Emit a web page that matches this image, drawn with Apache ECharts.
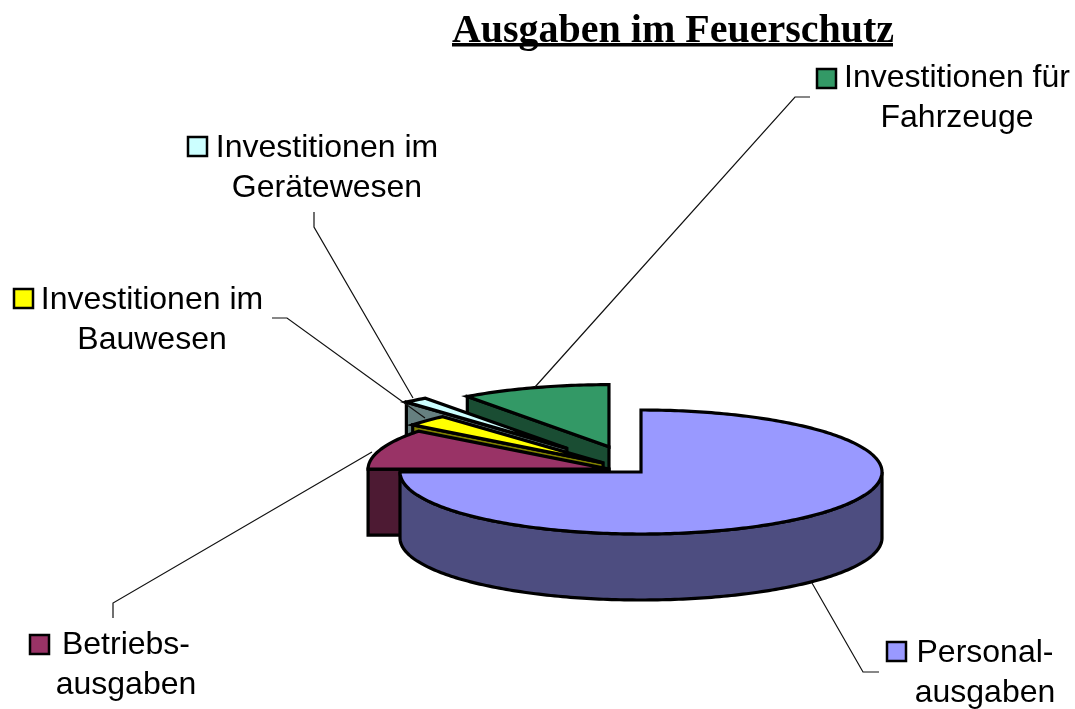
<!DOCTYPE html>
<html><head><meta charset="utf-8">
<style>html,body{margin:0;padding:0;background:#fff}#c{width:1075px;height:709px}</style>
<script src="https://cdn.jsdelivr.net/npm/echarts@6/dist/echarts.min.js"></script>
</head><body><div id="c"></div>
<script>
// Data (share of spending)
const categories = ['Personal-\nausgaben','Betriebs-\nausgaben','Investitionen im\nBauwesen','Investitionen im\nGerätewesen','Investitionen für\nFahrzeuge'];
const values = [75, 10.5, 2.9, 1.6, 10];
// Styles and layout
const topColors = ['#9999ff','#993366','#ffff00','#ccffff','#339966'];
const sideColors = ['#4d4d80','#4d1a33','#808000','#668080','#1a4d33'];
const explode = [0, 0.14, 0.215, 0.49, 0.43];
const PIE = {cx:641, cy:472, rx:241, ry:62, depth:66};
const keyBoxes = [[887,642],[30,635],[14,289],[188,137],[817,69]];
const labelPos = [[985,673],[126,665],[152,320],[327,168],[957,98]];
const leaders = [
  [[812,583],[863,672],[879,672]],
  [[113,618],[113,603],[372,452]],
  [[272,318],[287,318],[425,418]],
  [[314,212],[314,227],[413,398]],
  [[810,97],[795,97],[535,387]]
];
const total = values.reduce((a,b)=>a+b,0);
const starts = []; values.reduce((acc,v,i)=>{starts[i]=acc;return acc+v/total*360;},0);
const rad = d=>d*Math.PI/180;
function pt(c,deg,r=1){return [c[0]+PIE.rx*r*Math.sin(rad(deg)), c[1]-PIE.ry*r*Math.cos(rad(deg))];}
function arc(c,a,b){const n=Math.max(2,Math.ceil(Math.abs(b-a)));const out=[];for(let i=0;i<=n;i++)out.push(pt(c,a+(b-a)*i/n));return out;}
const edge = {stroke:'#000',lineWidth:3.2,lineJoin:'miter'};
function sliceItem(params){
  const i = values.length-1-params.dataIndex; // far slices are painted first
  const a = starts[i], b = a+values[i]/total*360, mid=(a+b)/2;
  const off = pt([0,0],mid,explode[i]);
  const c = [PIE.cx+off[0], PIE.cy+off[1]];
  const down = p=>[p[0],p[1]+PIE.depth];
  const kids = [];
  // cut wall that faces the viewer
  if(a>180&&a<360){
    const r=pt(c,a);
    kids.push({type:'polygon',shape:{points:[c,r,down(r),down(c)]},style:{fill:sideColors[i],...edge}});
  }
  // outer rim (front half only)
  const fa=Math.max(a,90), fb=Math.min(b,270);
  if(fb>fa){
    const t=arc(c,fa,fb);
    kids.push({type:'polygon',shape:{points:t.concat(t.map(down).reverse())},style:{fill:sideColors[i],...edge}});
  }
  kids.push({type:'polygon',shape:{points:[c].concat(arc(c,a,b))},style:{fill:topColors[i],...edge}});
  return {type:'group',children:kids};
}
function labelItem(params){
  const i=params.dataIndex;
  return {type:'group',children:[
    {type:'polyline',shape:{points:leaders[i]},style:{fill:null,stroke:'#111',lineWidth:1.2}},
    {type:'rect',shape:{x:keyBoxes[i][0],y:keyBoxes[i][1],width:19,height:19},style:{fill:topColors[i],stroke:'#000',lineWidth:2.5}},
    {type:'text',style:{x:labelPos[i][0],y:labelPos[i][1],text:categories[i],align:'center',verticalAlign:'middle',
      font:'32px "Liberation Sans"',lineHeight:39.5,fill:'#000'}}
  ]};
}
const chart = echarts.init(document.getElementById('c'),null,{renderer:'canvas'});
chart.setOption({
  animation:false,
  backgroundColor:'#fff',
  title:{text:'Ausgaben im Feuerschutz',left:668,top:7,textAlign:'center',
    textStyle:{fontFamily:'"Liberation Serif"',fontWeight:'bold',fontSize:40,color:'#000'}},
  graphic:[{type:'rect',shape:{x:452,y:43,width:441,height:3.5},style:{fill:'#000'}}],
  series:[
    {type:'custom',name:'Ausgaben',coordinateSystem:'none',renderItem:sliceItem,z:2,silent:true,
     data:values.map((v,i)=>({name:categories[values.length-1-i],value:values[values.length-1-i]}))},
    {type:'custom',name:'Beschriftung',coordinateSystem:'none',renderItem:labelItem,z:3,silent:true,
     data:values.map((v,i)=>({name:categories[i],value:v}))}
  ]
});
</script></body></html>
